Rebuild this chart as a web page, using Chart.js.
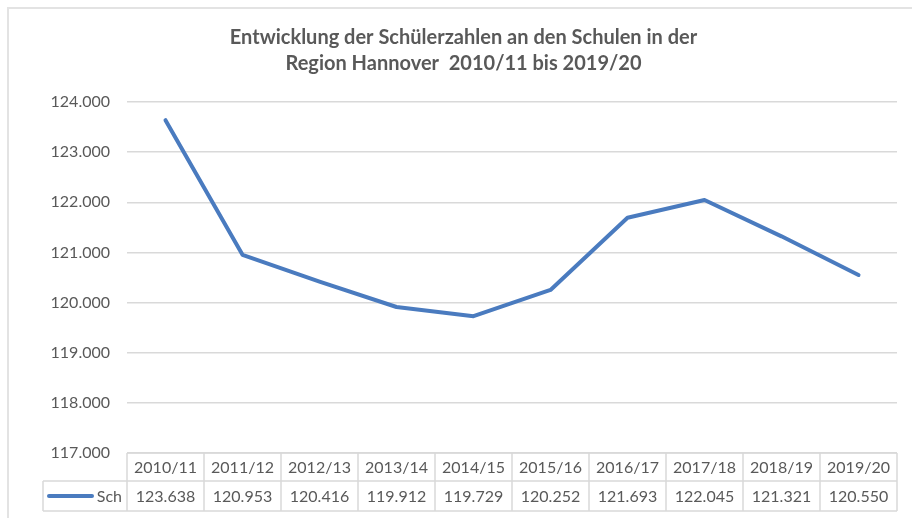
<!DOCTYPE html>
<html>
<head>
<meta charset="utf-8">
<script src="https://cdn.jsdelivr.net/npm/chart.js@4/dist/chart.umd.min.js"></script>
<style>
  html, body { margin: 0; padding: 0; background: #fff; }
  #wrap { position: relative; width: 912px; height: 518px; overflow: hidden; }
  #frame { position: absolute; left: 7px; top: 7px; width: 940px; height: 560px;
           border-left: 2px solid #e3e3e3; border-top: 2px solid #e3e3e3; box-sizing: border-box; }
  canvas { position: absolute; left: 0; top: 0; }
</style>
</head>
<body>
<div id="wrap">
  <div id="frame"></div>
  <canvas id="c" width="912" height="518"></canvas>
</div>
<script>
// ---- data ----
const titleLines = ["Entwicklung der Schülerzahlen an den Schulen in der", "Region Hannover  2010/11 bis 2019/20"];
const categories = ["2010/11", "2011/12", "2012/13", "2013/14", "2014/15", "2015/16", "2016/17", "2017/18", "2018/19", "2019/20"];
const seriesName = "Sch";
const seriesValues = [123638, 120953, 120416, 119912, 119729, 120252, 121693, 122045, 121321, 120550];
const yMin = 117000;
const yMax = 124000;
const yStep = 1000;

function fmt(v) {
  return String(Math.round(v)).replace(/\B(?=(\d{3})+(?!\d))/g, ".");
}

const TEXT = "#595959";
const GRID = "#d9d9d9";
const BLUE = "#4a7bbf";
const FONT = "Lato, 'Open Sans', sans-serif";

const tablePlugin = {
  id: "dataTable",
  afterDraw(chart) {
    const ctx = chart.ctx;
    const xs = chart.scales.x;
    const ca = chart.chartArea;
    const n = categories.length;
    const colW = (ca.right - ca.left) / n;
    const top = ca.bottom;
    const mid = top + 28;
    const bot = mid + 30;
    const legLeft = 43;
    ctx.save();
    ctx.strokeStyle = GRID;
    ctx.lineWidth = 1.5;
    ctx.beginPath();
    ctx.moveTo(ca.left, top); ctx.lineTo(ca.right, top);
    ctx.moveTo(legLeft, mid); ctx.lineTo(ca.right, mid);
    ctx.moveTo(legLeft, bot); ctx.lineTo(ca.right, bot);
    ctx.moveTo(legLeft, mid); ctx.lineTo(legLeft, bot);
    for (let i = 0; i <= n; i++) {
      const x = ca.left + i * colW;
      ctx.moveTo(x, top); ctx.lineTo(x, bot);
    }
    ctx.stroke();

    ctx.fillStyle = TEXT;
    ctx.font = "16px " + FONT;
    ctx.textAlign = "center";
    ctx.textBaseline = "middle";
    for (let i = 0; i < n; i++) {
      const cx = xs.getPixelForValue(i);
      ctx.fillText(categories[i], cx, (top + mid) / 2 + 1);
      ctx.fillText(fmt(seriesValues[i]), cx, (mid + bot) / 2 + 1);
    }
    const ly = (mid + bot) / 2;
    ctx.strokeStyle = BLUE;
    ctx.lineWidth = 4;
    ctx.lineCap = "round";
    ctx.beginPath();
    ctx.moveTo(49, ly); ctx.lineTo(92, ly);
    ctx.stroke();
    ctx.textAlign = "right";
    ctx.fillText(seriesName, ca.left - 5, ly + 1);
    ctx.restore();
  }
};

new Chart(document.getElementById("c"), {
  type: "line",
  data: {
    labels: categories,
    datasets: [{
      label: seriesName,
      data: seriesValues,
      borderColor: BLUE,
      borderWidth: 4,
      pointRadius: 0,
      tension: 0,
      fill: false,
      borderCapStyle: "round",
      borderJoinStyle: "round"
    }]
  },
  options: {
    responsive: false,
    animation: false,
    devicePixelRatio: 1,
    layout: { padding: { left: 30, right: 15, top: 0, bottom: 65 } },
    plugins: {
      legend: { display: false },
      tooltip: { enabled: false },
      title: {
        display: true,
        text: titleLines,
        color: TEXT,
        font: { family: FONT, size: 20, weight: "bold", lineHeight: 1.3 },
        padding: { top: 25, bottom: 25 }
      }
    },
    scales: {
      x: {
        type: "category",
        display: false,
        offset: true
      },
      y: {
        min: yMin,
        max: yMax,
        afterFit(scale) { scale.width = 97; },
        border: { display: false },
        grid: { color: GRID, lineWidth: 1.5, drawTicks: false },
        ticks: {
          stepSize: yStep,
          color: TEXT,
          padding: 17,
          font: { family: FONT, size: 16 },
          callback: (v) => fmt(v)
        }
      }
    }
  },
  plugins: [tablePlugin]
});
</script>
</body>
</html>
